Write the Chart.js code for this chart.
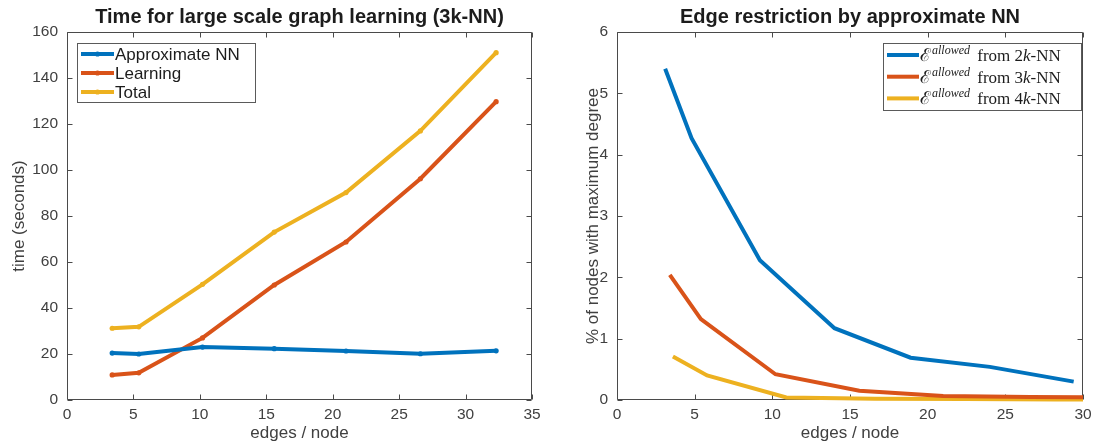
<!DOCTYPE html>
<html>
<head>
<meta charset="utf-8">
<script src="https://cdn.jsdelivr.net/npm/chart.js@4/dist/chart.umd.min.js"></script>
<style>
  html, body { margin: 0; padding: 0; background: #ffffff; }
  #wrap { position: relative; width: 1101px; height: 444px; }
  .panel { position: absolute; top: 0; height: 444px; }
</style>
</head>
<body>
<div id="wrap">
  <div class="panel" style="left:0;width:550px"><canvas id="timeChart" width="550" height="444"></canvas></div>
  <div class="panel" style="left:550px;width:551px"><canvas id="edgeChart" width="551" height="444"></canvas></div>
</div>
<script>
// ---- left panel: run time versus edges per node (3k-NN) ----
const edges3k   = [3.4, 5.4, 10.2, 15.6, 21.0, 26.6, 32.3];
const approxNN  = [20.4, 20.0, 23.0, 22.3, 21.3, 20.1, 21.4];
const learning  = [10.9, 11.8, 27.0, 50.0, 68.7, 96.2, 129.7];
const total     = [31.2, 31.8, 50.3, 73.0, 90.2, 117.0, 151.0];
const timeLabels = ['Approximate NN', 'Learning', 'Total'];

// ---- right panel: % of nodes reaching maximum degree ----
const edges2k = [3.1, 4.8, 9.2, 14.0, 18.9, 24.0, 29.4];
const pct2k   = [5.40, 4.27, 2.28, 1.17, 0.69, 0.54, 0.30];
const pct3k   = [2.04, 1.32, 0.42, 0.15, 0.065, 0.05, 0.04];
const edges4k = [3.6, 5.8, 10.9, 16.6, 22.4, 28.3, 34.2];
const pct4k   = [0.71, 0.40, 0.04, 0.02, 0.015, 0.01, 0.01];
const knnSizes = ['2', '3', '4'];

const timeXTicks = [0, 5, 10, 15, 20, 25, 30, 35];
const timeYTicks = [0, 20, 40, 60, 80, 100, 120, 140, 160];
const edgeXTicks = [0, 5, 10, 15, 20, 25, 30];
const edgeYTicks = [0, 1, 2, 3, 4, 5, 6];

const BLUE = '#0072BD', ORANGE = '#D95319', YELLOW = '#EDB120';
const AXIS = '#4a4a4a', TEXT = '#404040', DARK = '#1c1c1c';
const SANS = "'Liberation Sans', Arial, Helvetica, sans-serif";
const SERIF = "'Liberation Serif', 'DejaVu Serif', 'Times New Roman', serif";

Chart.defaults.font.family = SANS;
Chart.defaults.color = TEXT;

const zip = (xs, ys) => xs.map((x, i) => ({ x: x, y: ys[i] }));

// MATLAB-style box with inward ticks, title and axis labels
const frame = {
  id: 'frame',
  beforeDatasetsDraw(chart, args, opts) {
    const { ctx, chartArea: a, scales: { x, y } } = chart;
    const L = Math.round(a.left) + 0.5, R = Math.round(a.right) - 0.5;
    const T = Math.round(a.top) + 0.5, B = Math.round(a.bottom) - 0.5;
    const tl = 5;
    ctx.save();
    ctx.strokeStyle = AXIS;
    ctx.lineWidth = 1;
    ctx.beginPath();
    ctx.rect(L, T, R - L, B - T);
    x.ticks.forEach(t => {
      const px = Math.round(x.getPixelForValue(t.value)) + 0.5;
      ctx.moveTo(px, B); ctx.lineTo(px, B - tl);
      ctx.moveTo(px, T); ctx.lineTo(px, T + tl);
    });
    y.ticks.forEach(t => {
      const py = Math.round(y.getPixelForValue(t.value)) + 0.5;
      ctx.moveTo(L, py); ctx.lineTo(L + tl, py);
      ctx.moveTo(R, py); ctx.lineTo(R - tl, py);
    });
    ctx.stroke();
    ctx.restore();
  },
  afterDraw(chart, args, opts) {
    const { ctx, chartArea: a } = chart;
    const cx = (a.left + a.right) / 2, cy = (a.top + a.bottom) / 2;
    ctx.save();
    ctx.textAlign = 'center';
    ctx.textBaseline = 'middle';
    ctx.fillStyle = DARK;
    ctx.font = 'bold 20px ' + SANS;
    ctx.fillText(opts.title, cx, 17);
    ctx.fillStyle = TEXT;
    ctx.font = '17px ' + SANS;
    ctx.fillText(opts.xLabel, cx, 433);
    ctx.translate(opts.yLabelX, cy + (opts.yLabelShift || 0));
    ctx.rotate(-Math.PI / 2);
    ctx.fillText(opts.yLabel, 0, 0);
    ctx.restore();
  }
};

// legend for the timing panel: line sample with a dot marker, sans text
const timeLegend = {
  id: 'timeLegend',
  afterDraw(chart) {
    const { ctx, chartArea: a } = chart;
    const bx = a.left + 10, by = a.top + 11, bw = 178, bh = 59;
    ctx.save();
    ctx.fillStyle = '#ffffff';
    ctx.fillRect(bx, by, bw, bh);
    ctx.strokeStyle = '#5a5a5a';
    ctx.lineWidth = 1;
    ctx.strokeRect(bx + 0.5, by + 0.5, bw, bh);
    ctx.font = '17px ' + SANS;
    ctx.textBaseline = 'middle';
    chart.data.datasets.forEach((ds, i) => {
      const ry = by + 11 + i * 19;
      ctx.strokeStyle = ds.borderColor;
      ctx.lineWidth = 4;
      ctx.beginPath();
      ctx.moveTo(bx + 4, ry); ctx.lineTo(bx + 37, ry);
      ctx.stroke();
      ctx.fillStyle = ds.borderColor;
      ctx.beginPath();
      ctx.arc(bx + 20.5, ry, 2.6, 0, Math.PI * 2);
      ctx.fill();
      ctx.fillStyle = DARK;
      ctx.fillText(ds.label, bx + 38, ry + 1);
    });
    ctx.restore();
  }
};

// legend for the restriction panel: script E with superscript, serif text
const edgeLegend = {
  id: 'edgeLegend',
  afterDraw(chart) {
    const { ctx } = chart;
    const bx = 333, by = 43, bw = 198, bh = 67;
    ctx.save();
    ctx.fillStyle = '#ffffff';
    ctx.fillRect(bx, by, bw, bh);
    ctx.strokeStyle = '#5a5a5a';
    ctx.lineWidth = 1;
    ctx.strokeRect(bx + 0.5, by + 0.5, bw, bh);
    ctx.textBaseline = 'alphabetic';
    chart.data.datasets.forEach((ds, i) => {
      const ry = by + 12 + i * 21.7;
      ctx.strokeStyle = ds.borderColor;
      ctx.lineWidth = 4;
      ctx.beginPath();
      ctx.moveTo(bx + 4, ry); ctx.lineTo(bx + 36, ry);
      ctx.stroke();
      ctx.fillStyle = DARK;
      const base = ry + 6;
      let px = bx + 37;
      const pieces = [
        { t: '\u2130', f: '18px ' + SERIF, dy: 0, gap: 1 },
        { t: 'allowed', f: 'italic 12px ' + SERIF, dy: -7, gap: 3 },
        { t: ' from ' + knnSizes[i], f: '17px ' + SERIF, dy: 0, gap: 0 },
        { t: 'k', f: 'italic 17px ' + SERIF, dy: 0, gap: 0 },
        { t: '-NN', f: '17px ' + SERIF, dy: 0, gap: 0 }
      ];
      pieces.forEach(p => {
        ctx.font = p.f;
        ctx.fillText(p.t, px, base + p.dy);
        px += ctx.measureText(p.t).width + p.gap;
      });
    });
    ctx.restore();
  }
};

function lineSet(label, data, color, dots) {
  return {
    label: label,
    data: data,
    borderColor: color,
    backgroundColor: color,
    borderWidth: 4,
    pointRadius: dots ? 2.6 : 0,
    pointBorderWidth: 0,
    pointBackgroundColor: color,
    pointHoverRadius: 0,
    tension: 0,
    fill: false,
    clip: { left: 3, right: 0, top: 3, bottom: 4 }
  };
}

function axes(xMax, yMax, xTicks, yTicks) {
  return {
    x: {
      type: 'linear', min: 0, max: xMax,
      afterBuildTicks: s => { s.ticks = xTicks.map(v => ({ value: v })); },
      afterFit: s => { s.height = 44; },
      grid: { display: false, drawTicks: false },
      border: { display: false },
      ticks: { font: { size: 15.5 }, color: TEXT, padding: 5, maxRotation: 0 }
    },
    y: {
      type: 'linear', min: 0, max: yMax,
      afterBuildTicks: s => { s.ticks = yTicks.map(v => ({ value: v })); },
      afterFit: s => { s.width = 67; },
      grid: { display: false, drawTicks: false },
      border: { display: false },
      ticks: { font: { size: 15.5 }, color: TEXT, padding: 9 }
    }
  };
}

const common = {
  responsive: false,
  animation: false,
  devicePixelRatio: 1,
  events: [],
  layout: { autoPadding: false, padding: { left: 0, right: 18, top: 32, bottom: 0 } }
};

new Chart(document.getElementById('timeChart'), {
  type: 'line',
  data: {
    datasets: [
      lineSet(timeLabels[0], zip(edges3k, approxNN), BLUE, true),
      lineSet(timeLabels[1], zip(edges3k, learning), ORANGE, true),
      lineSet(timeLabels[2], zip(edges3k, total), YELLOW, true)
    ]
  },
  options: Object.assign({}, common, {
    scales: axes(35, 160, timeXTicks, timeYTicks),
    plugins: {
      legend: { display: false },
      tooltip: { enabled: false },
      frame: {
        title: 'Time for large scale graph learning (3k-NN)',
        xLabel: 'edges / node',
        yLabel: 'time (seconds)',
        yLabelX: 19
      }
    }
  }),
  plugins: [frame, timeLegend]
});

new Chart(document.getElementById('edgeChart'), {
  type: 'line',
  data: {
    datasets: [
      lineSet('\u2130 allowed from 2k-NN', zip(edges2k, pct2k), BLUE, false),
      lineSet('\u2130 allowed from 3k-NN', zip(edges3k, pct3k), ORANGE, false),
      lineSet('\u2130 allowed from 4k-NN', zip(edges4k, pct4k), YELLOW, false)
    ]
  },
  options: Object.assign({}, common, {
    scales: axes(30, 6, edgeXTicks, edgeYTicks),
    plugins: {
      legend: { display: false },
      tooltip: { enabled: false },
      frame: {
        title: 'Edge restriction by approximate NN',
        xLabel: 'edges / node',
        yLabel: '% of nodes with maximum degree',
        yLabelX: 43
      }
    }
  }),
  plugins: [frame, edgeLegend]
});
</script>
</body>
</html>
